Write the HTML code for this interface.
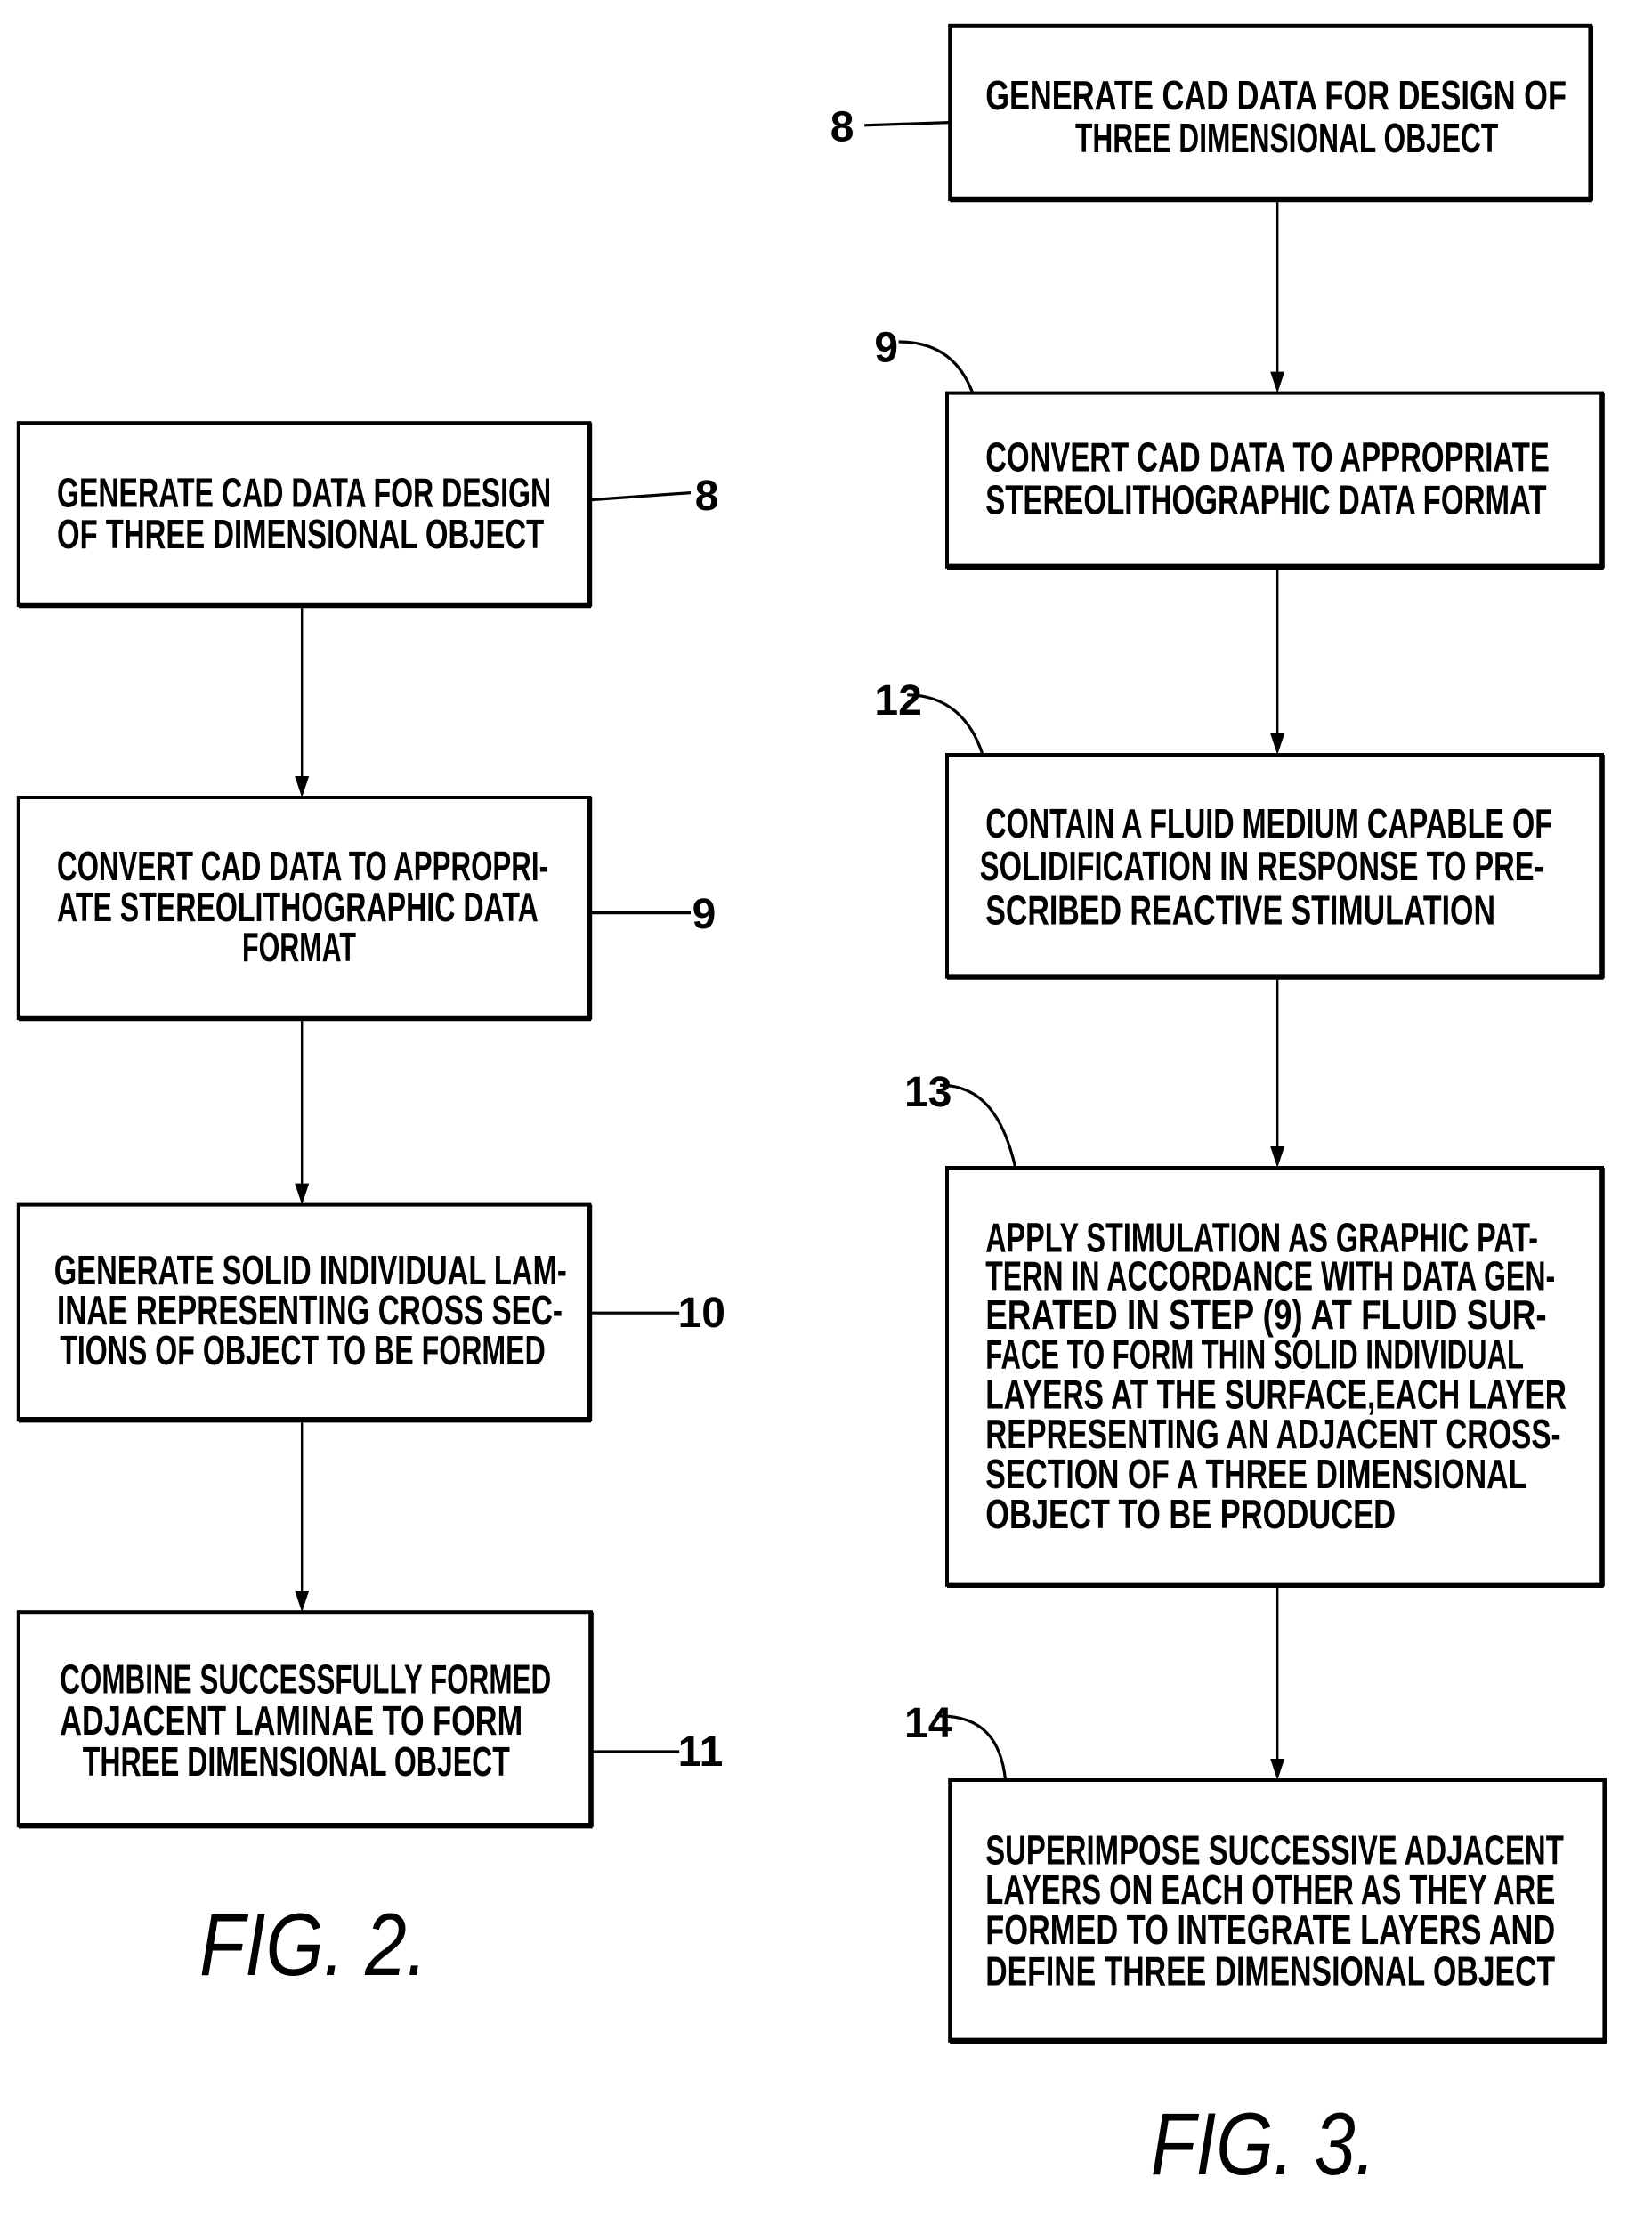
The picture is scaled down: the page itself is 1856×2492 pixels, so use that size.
<!DOCTYPE html>
<html><head><meta charset="utf-8"><style>
html,body{margin:0;padding:0;background:#fff;}
svg{display:block;}
text{font-family:"Liberation Sans",sans-serif;font-weight:bold;fill:#000;}
.t{font-size:29px;}
.n{font-size:30px;font-weight:normal;}
.fig{font-size:62px;font-style:italic;font-weight:normal;}
</style></head><body>
<svg width="1856" height="2492" viewBox="0 0 1160 1557.5" xmlns="http://www.w3.org/2000/svg">
<g fill="none" stroke="#000" stroke-width="2.5">
<rect x="13" y="297" width="401" height="128"/><line x1="13" y1="425" x2="415" y2="425" stroke-width="4"/><line x1="414" y1="297" x2="414" y2="426" stroke-width="3.5"/>
<rect x="13" y="560" width="401" height="155"/><line x1="13" y1="715" x2="415" y2="715" stroke-width="4"/><line x1="414" y1="560" x2="414" y2="716" stroke-width="3.5"/>
<rect x="13" y="846" width="401" height="151"/><line x1="13" y1="997" x2="415" y2="997" stroke-width="4"/><line x1="414" y1="846" x2="414" y2="998" stroke-width="3.5"/>
<rect x="13" y="1132" width="402" height="150"/><line x1="13" y1="1282" x2="416" y2="1282" stroke-width="4"/><line x1="415" y1="1132" x2="415" y2="1283" stroke-width="3.5"/>
<rect x="667" y="18" width="450" height="122"/><line x1="667" y1="140" x2="1118" y2="140" stroke-width="4"/><line x1="1117" y1="18" x2="1117" y2="141" stroke-width="3.5"/>
<rect x="665" y="276" width="460" height="122"/><line x1="665" y1="398" x2="1126" y2="398" stroke-width="4"/><line x1="1125" y1="276" x2="1125" y2="399" stroke-width="3.5"/>
<rect x="665" y="530" width="460" height="156"/><line x1="665" y1="686" x2="1126" y2="686" stroke-width="4"/><line x1="1125" y1="530" x2="1125" y2="687" stroke-width="3.5"/>
<rect x="665" y="820" width="460" height="293"/><line x1="665" y1="1113" x2="1126" y2="1113" stroke-width="4"/><line x1="1125" y1="820" x2="1125" y2="1114" stroke-width="3.5"/>
<rect x="667" y="1250" width="460" height="183"/><line x1="667" y1="1433" x2="1128" y2="1433" stroke-width="4"/><line x1="1127" y1="1250" x2="1127" y2="1434" stroke-width="3.5"/>
</g>
<g stroke="#000" stroke-width="1.5" fill="none">
<line x1="212" y1="427" x2="212" y2="548"/>
<line x1="212" y1="717" x2="212" y2="834"/>
<line x1="212" y1="999" x2="212" y2="1120"/>
<line x1="897" y1="142" x2="897" y2="264"/>
<line x1="897" y1="400" x2="897" y2="518"/>
<line x1="897" y1="688" x2="897" y2="808"/>
<line x1="897" y1="1115" x2="897" y2="1238"/>
</g>
<g fill="#000">
<polygon points="207,545 217,545 212,560"/>
<polygon points="207,831 217,831 212,846"/>
<polygon points="207,1117 217,1117 212,1132"/>
<polygon points="892,261 902,261 897,276"/>
<polygon points="892,515 902,515 897,530"/>
<polygon points="892,805 902,805 897,820"/>
<polygon points="892,1235 902,1235 897,1250"/>
</g>
<g stroke="#000" stroke-width="2" fill="none">
<path d="M415,351 L485,346"/>
<path d="M415,641 L485,641"/>
<path d="M415,922 L477,922"/>
<path d="M416,1230 L477,1230"/>
<path d="M607,88 L667,86"/>
<path d="M631,240 C660,240 675,255 683,276"/>
<path d="M637,488 C665,488 682,505 690,530"/>
<path d="M660,762 C690,762 705,785 713,820"/>
<path d="M660,1205 C690,1205 703,1222 706,1250"/>
</g>
<g class="n">
<text x="488" y="358">8</text>
<text x="486" y="652">9</text>
<text x="476" y="932">10</text>
<text x="476" y="1240">11</text>
<text x="583" y="99">8</text>
<text x="614" y="254">9</text>
<text x="614" y="502">12</text>
<text x="635" y="777">13</text>
<text x="635" y="1220">14</text>
</g>
<g class="t">
<text x="40" y="356" textLength="347" lengthAdjust="spacingAndGlyphs">GENERATE CAD DATA FOR DESIGN</text>
<text x="40" y="385" textLength="342" lengthAdjust="spacingAndGlyphs">OF THREE DIMENSIONAL OBJECT</text>
<text x="40" y="618" textLength="345" lengthAdjust="spacingAndGlyphs">CONVERT CAD DATA TO APPROPRI-</text>
<text x="40" y="647" textLength="338" lengthAdjust="spacingAndGlyphs">ATE STEREOLITHOGRAPHIC DATA</text>
<text x="170" y="675" textLength="80" lengthAdjust="spacingAndGlyphs">FORMAT</text>
<text x="38" y="902" textLength="360" lengthAdjust="spacingAndGlyphs">GENERATE SOLID INDIVIDUAL LAM-</text>
<text x="40" y="930" textLength="355" lengthAdjust="spacingAndGlyphs">INAE REPRESENTING CROSS SEC-</text>
<text x="42" y="958" textLength="341" lengthAdjust="spacingAndGlyphs">TIONS OF OBJECT TO BE FORMED</text>
<text x="42" y="1189" textLength="345" lengthAdjust="spacingAndGlyphs">COMBINE SUCCESSFULLY FORMED</text>
<text x="42" y="1218" textLength="325" lengthAdjust="spacingAndGlyphs">ADJACENT LAMINAE TO FORM</text>
<text x="58" y="1247" textLength="300" lengthAdjust="spacingAndGlyphs">THREE DIMENSIONAL OBJECT</text>

<text x="692" y="77" textLength="408" lengthAdjust="spacingAndGlyphs">GENERATE CAD DATA FOR DESIGN OF</text>
<text x="755" y="107" textLength="297" lengthAdjust="spacingAndGlyphs">THREE DIMENSIONAL OBJECT</text>
<text x="692" y="331" textLength="396" lengthAdjust="spacingAndGlyphs">CONVERT CAD DATA TO APPROPRIATE</text>
<text x="692" y="361" textLength="394" lengthAdjust="spacingAndGlyphs">STEREOLITHOGRAPHIC DATA FORMAT</text>
<text x="692" y="588" textLength="398" lengthAdjust="spacingAndGlyphs">CONTAIN A FLUID MEDIUM CAPABLE OF</text>
<text x="688" y="618" textLength="396" lengthAdjust="spacingAndGlyphs">SOLIDIFICATION IN RESPONSE TO PRE-</text>
<text x="692" y="649" textLength="358" lengthAdjust="spacingAndGlyphs">SCRIBED REACTIVE STIMULATION</text>
<text x="692" y="879" textLength="388" lengthAdjust="spacingAndGlyphs">APPLY STIMULATION AS GRAPHIC PAT-</text>
<text x="692" y="906" textLength="400" lengthAdjust="spacingAndGlyphs">TERN IN ACCORDANCE WITH DATA GEN-</text>
<text x="692" y="933" textLength="394" lengthAdjust="spacingAndGlyphs">ERATED IN STEP (9) AT FLUID SUR-</text>
<text x="692" y="961" textLength="378" lengthAdjust="spacingAndGlyphs">FACE TO FORM THIN SOLID INDIVIDUAL</text>
<text x="692" y="989" textLength="408" lengthAdjust="spacingAndGlyphs">LAYERS AT THE SURFACE,EACH LAYER</text>
<text x="692" y="1017" textLength="404" lengthAdjust="spacingAndGlyphs">REPRESENTING AN ADJACENT CROSS-</text>
<text x="692" y="1045" textLength="380" lengthAdjust="spacingAndGlyphs">SECTION OF A THREE DIMENSIONAL</text>
<text x="692" y="1073" textLength="288" lengthAdjust="spacingAndGlyphs">OBJECT TO BE PRODUCED</text>
<text x="692" y="1309" textLength="406" lengthAdjust="spacingAndGlyphs">SUPERIMPOSE SUCCESSIVE ADJACENT</text>
<text x="692" y="1337" textLength="400" lengthAdjust="spacingAndGlyphs">LAYERS ON EACH OTHER AS THEY ARE</text>
<text x="692" y="1365" textLength="400" lengthAdjust="spacingAndGlyphs">FORMED TO INTEGRATE LAYERS AND</text>
<text x="692" y="1394" textLength="400" lengthAdjust="spacingAndGlyphs">DEFINE THREE DIMENSIONAL OBJECT</text>
</g>
<text class="fig" x="140" y="1387" textLength="160" lengthAdjust="spacingAndGlyphs">FIG. 2.</text>
<text class="fig" x="808" y="1527" textLength="158" lengthAdjust="spacingAndGlyphs">FIG. 3.</text>
</svg>
</body></html>
